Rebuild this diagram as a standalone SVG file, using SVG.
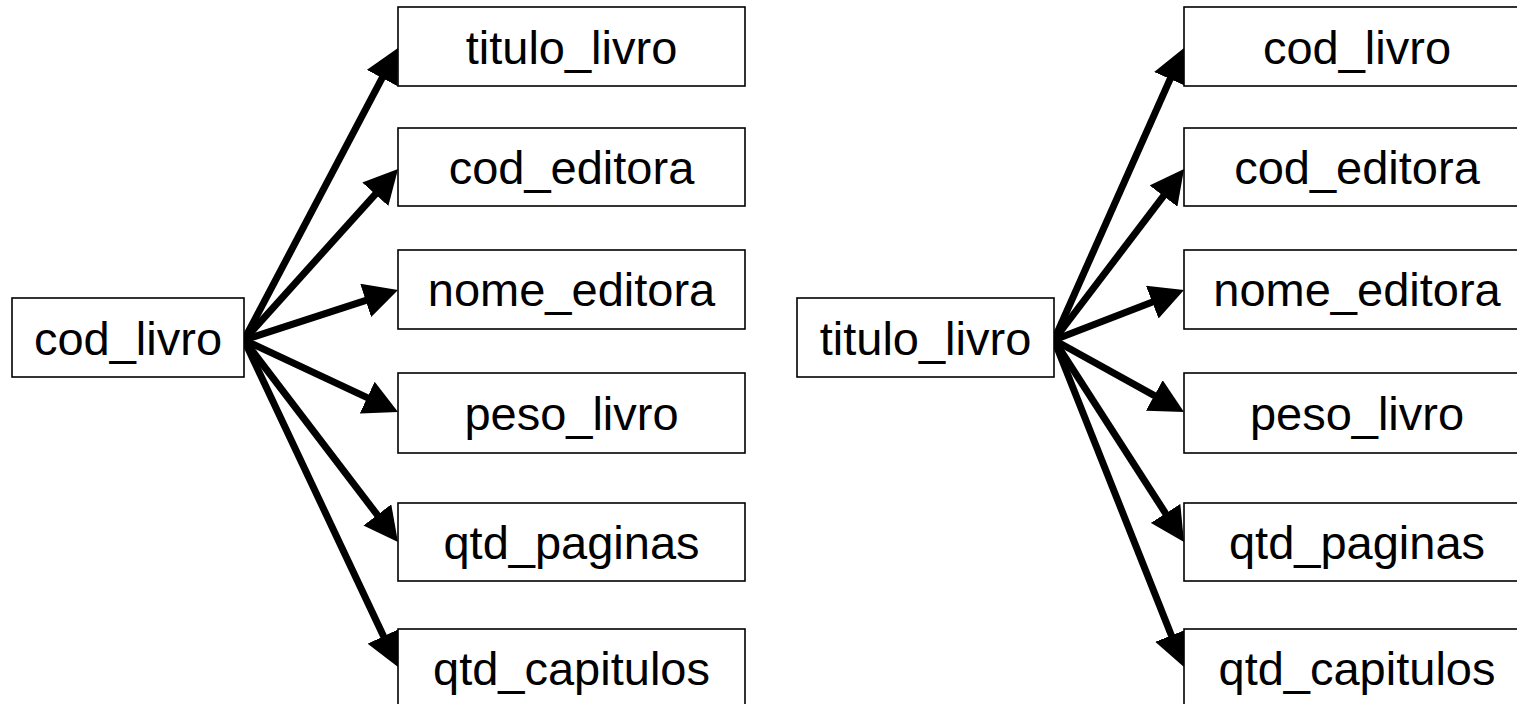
<svg xmlns="http://www.w3.org/2000/svg" width="1517" height="704" viewBox="0 0 1517 704">
<style>
.box{fill:#fff;stroke:#000;stroke-width:1.6}
.lbl{font-family:"Liberation Sans",Arial,sans-serif;font-size:47px;fill:#000;text-anchor:middle}
.con{stroke:#000;stroke-width:7;fill:none;marker-end:url(#ah)}
</style>
<defs>
<marker id="ah" markerUnits="userSpaceOnUse" markerWidth="34" markerHeight="35" viewBox="0 0 34 35" refX="10" refY="17.5" orient="auto">
<path d="M0,0 L34,17.5 L0,35 z" fill="#000"/>
</marker>
</defs>
<rect width="1517" height="704" fill="#fff"/>
<g id="connectors">
<line class="con" x1="244" y1="340" x2="386.8" y2="69.2"/>
<line class="con" x1="244" y1="340" x2="382.0" y2="186.8"/>
<line class="con" x1="244" y1="340" x2="375.2" y2="297.4"/>
<line class="con" x1="244" y1="340" x2="376.3" y2="401.8"/>
<line class="con" x1="244" y1="340" x2="383.4" y2="522.9"/>
<line class="con" x1="244" y1="340" x2="387.8" y2="645.3"/>
<line class="con" x1="1054" y1="340" x2="1174.2" y2="69.9"/>
<line class="con" x1="1054" y1="340" x2="1169.5" y2="188.1"/>
<line class="con" x1="1054" y1="340" x2="1161.6" y2="298.6"/>
<line class="con" x1="1054" y1="340" x2="1163.0" y2="400.4"/>
<line class="con" x1="1054" y1="340" x2="1171.0" y2="521.8"/>
<line class="con" x1="1054" y1="340" x2="1175.1" y2="644.7"/>
</g>
<g id="L_cod_livro"><rect class="box" x="12" y="298" width="232" height="79"/><text class="lbl" x="128" y="355">cod_livro</text></g>
<g id="L_titulo_livro"><rect class="box" x="398" y="7" width="347" height="79"/><text class="lbl" x="571.5" y="64">titulo_livro</text></g>
<g id="L_cod_editora"><rect class="box" x="398" y="128" width="347" height="78"/><text class="lbl" x="571.5" y="184">cod_editora</text></g>
<g id="L_nome_editora"><rect class="box" x="398" y="250" width="347" height="79"/><text class="lbl" x="571.5" y="306">nome_editora</text></g>
<g id="L_peso_livro"><rect class="box" x="398" y="373" width="347" height="80"/><text class="lbl" x="571.5" y="430">peso_livro</text></g>
<g id="L_qtd_paginas"><rect class="box" x="398" y="503" width="347" height="78"/><text class="lbl" x="571.5" y="559">qtd_paginas</text></g>
<g id="L_qtd_capitulos"><rect class="box" x="398" y="629" width="347" height="80"/><text class="lbl" x="571.5" y="685">qtd_capitulos</text></g>
<g id="R_titulo_livro"><rect class="box" x="797" y="298" width="257" height="79"/><text class="lbl" x="925.5" y="355">titulo_livro</text></g>
<g id="R_cod_livro"><rect class="box" x="1184" y="7" width="347" height="79"/><text class="lbl" x="1357" y="64">cod_livro</text></g>
<g id="R_cod_editora"><rect class="box" x="1184" y="128" width="347" height="78"/><text class="lbl" x="1357" y="184">cod_editora</text></g>
<g id="R_nome_editora"><rect class="box" x="1184" y="250" width="347" height="79"/><text class="lbl" x="1357" y="306">nome_editora</text></g>
<g id="R_peso_livro"><rect class="box" x="1184" y="373" width="347" height="80"/><text class="lbl" x="1357" y="430">peso_livro</text></g>
<g id="R_qtd_paginas"><rect class="box" x="1184" y="503" width="347" height="78"/><text class="lbl" x="1357" y="559">qtd_paginas</text></g>
<g id="R_qtd_capitulos"><rect class="box" x="1184" y="629" width="347" height="80"/><text class="lbl" x="1357" y="685">qtd_capitulos</text></g>
</svg>
